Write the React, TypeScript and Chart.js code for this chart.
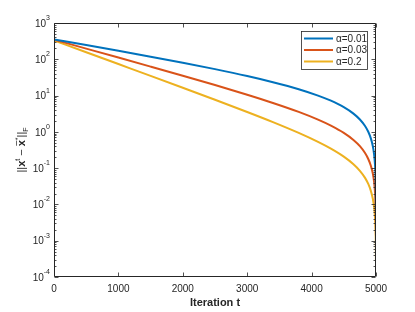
import React, { useEffect, useRef } from "react";
import { Chart, registerables } from "chart.js";

Chart.register(...registerables);

const iterations = [0, 500, 1000, 1500, 2000, 2500, 3000, 3400, 3800, 4100, 4300, 4500, 4650, 4750, 4830, 4880, 4920, 4950, 4970, 4985, 4993, 4997, 4999];
const seriesLabels = ["α=0.01", "α=0.03", "α=0.2"];
const seriesColors = ["#0072BD", "#D95319", "#EDB120"];
const alpha001 = [353, 247, 171.5, 118.2, 80.4, 53.6, 34.6, 23.4, 15.0, 10.0, 7.22, 4.8, 3.18, 2.19, 1.45, 1.005, 0.661, 0.409, 0.2435, 0.1211, 0.0564, 0.0241, 0.00804];
const alpha003 = [347, 196.7, 111.4, 62.8, 35.2, 19.5, 10.56, 6.27, 3.55, 2.174, 1.485, 0.936, 0.5977, 0.4024, 0.261, 0.179, 0.1166, 0.0716, 0.0425, 0.02107, 0.00979, 0.00418, 0.001393];
const alpha02 = [331, 156.5, 73.9, 34.9, 16.41, 7.67, 3.53, 1.856, 0.936, 0.53, 0.3447, 0.2074, 0.1282, 0.0845, 0.054, 0.03664, 0.02368, 0.01447, 0.00855, 0.00423, 0.00196, 0.000838, 0.000279];
const yDecades = [1e-4, 1e-3, 1e-2, 1e-1, 1, 1e1, 1e2, 1e3];
const yExponents = ["-4", "-3", "-2", "-1", "0", "1", "2", "3"];
const xTicks = [0, 1000, 2000, 3000, 4000, 5000];
const xTickLabels = ["0", "1000", "2000", "3000", "4000", "5000"];
const xTitle = "Iteration t";

const FONT = "'Liberation Sans', Arial, Helvetica, sans-serif";
const AX = "#262626";

const matlabPlugin = {
  id: "matlabAxes",
  afterDatasetsDraw(chart: any) {
    const ctx = chart.ctx as CanvasRenderingContext2D;
    const { left, right, top, bottom } = chart.chartArea;
    const xs = chart.scales.x;
    const ys = chart.scales.y;
    const L = Math.round(left) + 0.5;
    const R = Math.round(right) - 0.5;
    const T = Math.round(top) + 0.5;
    const B = Math.round(bottom) - 0.5;
    ctx.save();
    ctx.strokeStyle = AX;
    ctx.lineWidth = 1;
    ctx.beginPath();
    ctx.rect(L, T, R - L, B - T);
    ctx.stroke();

    // ticks
    ctx.beginPath();
    ctx.lineWidth = 0.8;
    for (let i = 0; i < yDecades.length; i++) {
      const v = yDecades[i];
      const py = Math.round(ys.getPixelForValue(v)) + 0.5;
      ctx.moveTo(L, py); ctx.lineTo(L + 4, py);
      ctx.moveTo(R, py); ctx.lineTo(R - 4, py);
      if (i < yDecades.length - 1) {
        for (let m = 2; m <= 9; m++) {
          const pm = Math.round(ys.getPixelForValue(v * m)) + 0.5;
          ctx.moveTo(L, pm); ctx.lineTo(L + 2, pm);
          ctx.moveTo(R, pm); ctx.lineTo(R - 2, pm);
        }
      }
    }
    for (const t of xTicks) {
      const px = Math.round(xs.getPixelForValue(t)) + 0.5;
      ctx.moveTo(px, B); ctx.lineTo(px, B - 4);
      ctx.moveTo(px, T); ctx.lineTo(px, T + 4);
    }
    ctx.stroke();

    // y tick labels
    ctx.fillStyle = AX;
    ctx.textBaseline = "middle";
    for (let i = 0; i < yDecades.length; i++) {
      const py = ys.getPixelForValue(yDecades[i]);
      ctx.font = `7px ${FONT}`;
      const ew = ctx.measureText(yExponents[i]).width;
      const ex = 50 - ew;
      ctx.textAlign = "left";
      ctx.fillText(yExponents[i], ex, py - 5);
      ctx.font = `10px ${FONT}`;
      ctx.textAlign = "right";
      ctx.fillText("10", ex, py + 1);
    }
    // x tick labels
    ctx.font = `10px ${FONT}`;
    ctx.textAlign = "center";
    for (let i = 0; i < xTicks.length; i++) {
      ctx.fillText(xTickLabels[i], xs.getPixelForValue(xTicks[i]), 289);
    }
    // x title
    ctx.font = `bold 11px ${FONT}`;
    ctx.fillText(xTitle, (left + right) / 2, 303);

    // y title
    ctx.save();
    ctx.translate(22, 150);
    ctx.rotate(-Math.PI / 2);
    const pieces = [
      { t: "||", f: `11px ${FONT}`, dy: 0 },
      { t: "x", f: `bold 11px ${FONT}`, dy: 0 },
      { t: "t", f: `7px ${FONT}`, dy: -4 },
      { t: " − ", f: `11px ${FONT}`, dy: 0 },
      { t: "x", f: `bold 11px ${FONT}`, dy: 0, bar: true },
      { t: "*", f: `7px ${FONT}`, dy: -4 },
      { t: "||", f: `11px ${FONT}`, dy: 0 },
      { t: "F", f: `7px ${FONT}`, dy: 4 },
    ];
    let total = 0;
    const widths: number[] = [];
    for (const p of pieces) {
      ctx.font = p.f;
      const w = ctx.measureText(p.t).width;
      widths.push(w);
      total += w;
    }
    let cx = -total / 2;
    ctx.textAlign = "left";
    ctx.textBaseline = "middle";
    pieces.forEach((p: any, i) => {
      ctx.font = p.f;
      ctx.fillText(p.t, cx, p.dy);
      if (p.bar) {
        ctx.beginPath();
        ctx.lineWidth = 0.7;
        ctx.moveTo(cx + 0.5, -5.5);
        ctx.lineTo(cx + widths[i] - 0.5, -5.5);
        ctx.stroke();
      }
      cx += widths[i];
    });
    ctx.restore();

    // legend
    const lx = 301.5, ly = 31.5, lw = 66, lh = 38;
    ctx.fillStyle = "#ffffff";
    ctx.fillRect(lx, ly, lw, lh);
    ctx.strokeStyle = AX;
    ctx.lineWidth = 0.8;
    ctx.strokeRect(lx, ly, lw, lh);
    const rows = [38.5, 50, 61.5];
    ctx.font = `10px ${FONT}`;
    ctx.textAlign = "left";
    ctx.textBaseline = "middle";
    for (let i = 0; i < seriesLabels.length; i++) {
      ctx.strokeStyle = seriesColors[i];
      ctx.lineWidth = 2;
      ctx.beginPath();
      ctx.moveTo(304, rows[i]);
      ctx.lineTo(333, rows[i]);
      ctx.stroke();
      ctx.fillStyle = AX;
      ctx.fillText(seriesLabels[i], 336, rows[i] + 0.5);
    }
    ctx.restore();
  },
};

export default function App() {
  const ref = useRef<HTMLCanvasElement | null>(null);
  useEffect(() => {
    if (!ref.current) return;
    const all = [alpha001, alpha003, alpha02];
    const chart = new Chart(ref.current, {
      type: "line",
      data: {
        datasets: all.map((vals, i) => ({
          label: seriesLabels[i],
          data: iterations.map((t, j) => ({ x: t, y: vals[j] })),
          borderColor: seriesColors[i],
          backgroundColor: seriesColors[i],
          borderWidth: 2,
          pointRadius: 0,
          cubicInterpolationMode: "monotone" as const,
          fill: false,
        })),
      },
      options: {
        responsive: false,
        animation: false,
        devicePixelRatio: 1,
        layout: { padding: { left: 54, right: 39, top: 23, bottom: 35 } },
        plugins: { legend: { display: false }, tooltip: { enabled: false } },
        scales: {
          x: { type: "linear", min: 0, max: 5000, display: false },
          y: { type: "logarithmic", min: 1e-4, max: 1e3, display: false },
        },
      },
      plugins: [matlabPlugin],
    });
    return () => chart.destroy();
  }, []);
  return (
    <div style={{ position: "fixed", left: 0, top: 0, width: 415, height: 312, background: "#fff" }}>
      <canvas ref={ref} width={415} height={312} style={{ display: "block" }} />
    </div>
  );
}
